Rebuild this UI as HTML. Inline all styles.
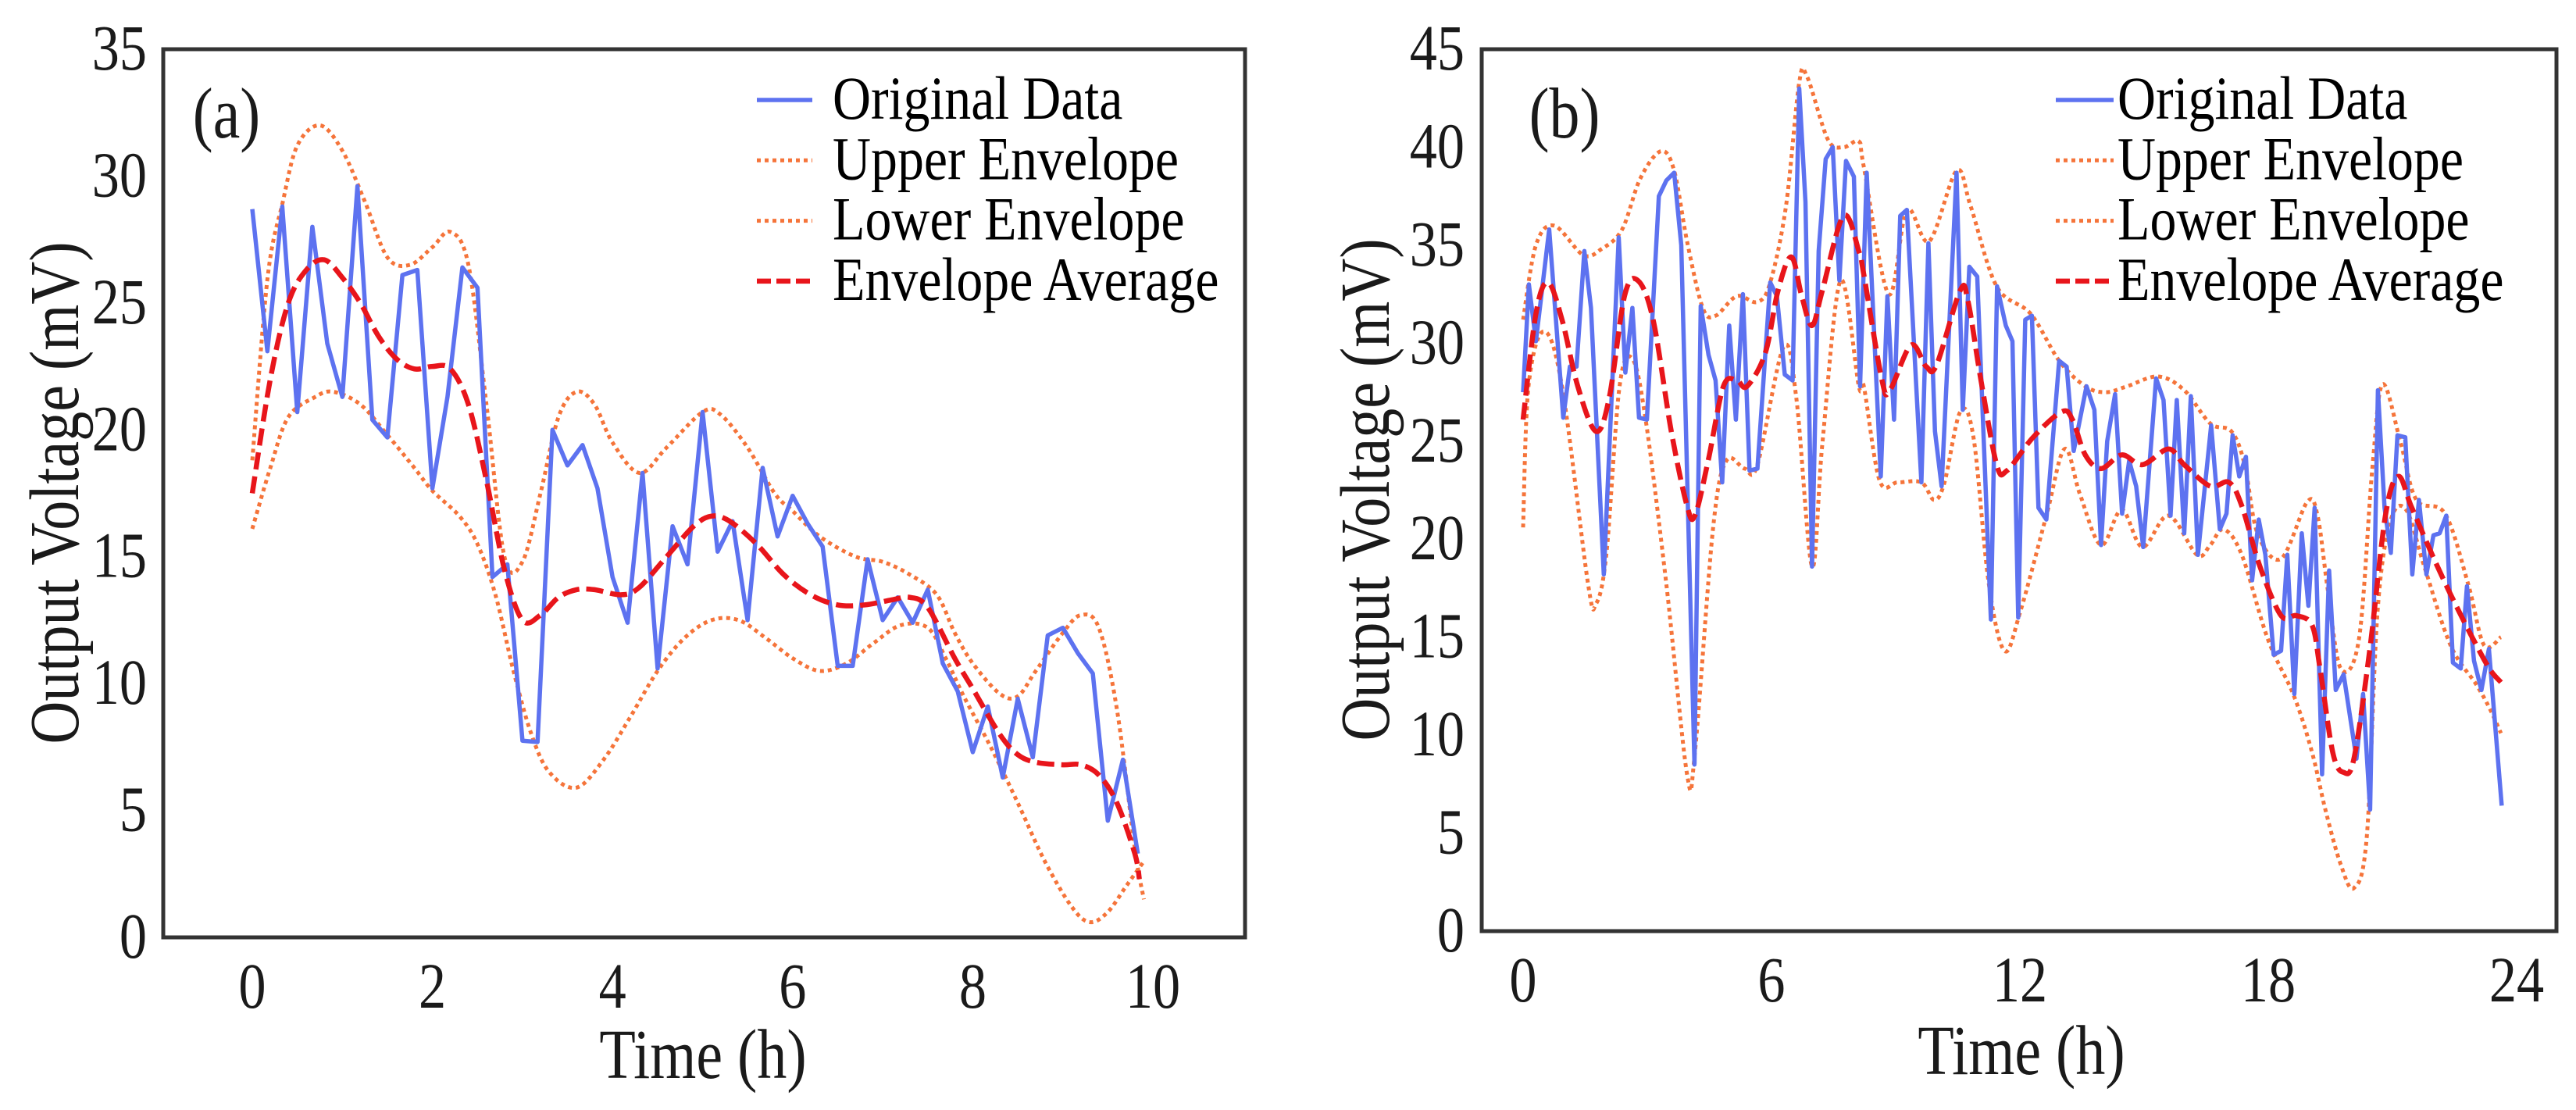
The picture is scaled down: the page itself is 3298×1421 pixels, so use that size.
<!DOCTYPE html>
<html><head><meta charset="utf-8"><style>
html,body{margin:0;padding:0;background:#fff;}
svg{display:block;font-family:"Liberation Serif","Times New Roman",serif;}
</style></head><body>
<svg id="chart" xmlns="http://www.w3.org/2000/svg" width="3298" height="1421" viewBox="0 0 3298 1421">
<rect x="0" y="0" width="3298" height="1421" fill="#fff"/>
</svg>
<script>
// ---- Panel (a) data ----
const aOrigT = [0,0.167,0.333,0.5,0.667,0.833,1,1.167,1.333,1.5,1.667,1.833,2,2.167,2.333,2.5,2.667,2.833,3,3.167,3.333,3.5,3.667,3.833,4,4.167,4.333,4.5,4.667,4.833,5,5.167,5.333,5.5,5.667,5.833,6,6.167,6.333,6.5,6.667,6.833,7,7.167,7.333,7.5,7.667,7.833,8,8.167,8.333,8.5,8.667,8.833,9,9.167,9.333,9.5,9.667,9.833];
const aOrigV = [28.7,23.1,28.8,20.7,28.0,23.4,21.3,29.6,20.4,19.7,26.1,26.3,17.7,21.3,26.4,25.6,14.2,14.7,7.75,7.7,20.0,18.6,19.4,17.7,14.2,12.4,18.3,10.6,16.2,14.7,20.7,15.2,16.4,12.5,18.5,15.8,17.4,16.3,15.4,10.7,10.7,14.9,12.5,13.4,12.4,13.7,10.8,9.7,7.3,9.1,6.3,9.4,7.1,11.9,12.2,11.2,10.4,4.6,7.0,3.3];
const aUpT = [0,0.17,0.34,0.5,0.75,1.0,1.25,1.5,1.75,2.0,2.2,2.4,2.6,2.8,3.0,3.2,3.4,3.6,3.8,4.0,4.3,4.6,5.0,5.2,5.5,5.8,6.0,6.3,6.7,7.0,7.3,7.6,7.8,8.0,8.3,8.5,8.7,9.0,9.2,9.4,9.6,9.8,9.9];
const aUpV = [18.8,26,29,31.2,32,31,29,26.8,26.5,27.2,27.8,26.5,21,15,14.8,17.5,20.5,21.5,21,19.5,18.3,19.3,20.7,20.6,19.3,17.5,16.8,15.8,15,14.8,14.3,13.5,12,10.8,9.6,9.5,10.5,12,12.7,12.2,9,3.5,1.5];
const aLoT = [0,0.2,0.4,0.7,0.9,1.2,1.5,1.8,2.0,2.3,2.5,2.7,2.9,3.1,3.3,3.6,3.9,4.2,4.5,4.8,5.1,5.4,5.7,6.0,6.3,6.6,6.9,7.2,7.5,7.7,7.9,8.2,8.5,8.8,9.1,9.3,9.5,9.7,9.9];
const aLoV = [16.1,18.5,20.5,21.3,21.5,21,19.8,18.5,17.6,16.6,15.5,13.5,10.5,8,6.5,5.9,7,8.7,10.5,11.8,12.5,12.5,11.8,11,10.5,10.8,11.6,12.3,12.2,11,9.5,7.5,5.3,3,1.2,0.6,1.0,2.0,3.0];
const aAvgT = [0,0.2,0.4,0.6,0.8,1.0,1.2,1.4,1.6,1.8,2.0,2.2,2.4,2.6,2.8,3.0,3.2,3.4,3.6,3.8,4.1,4.3,4.6,4.9,5.1,5.3,5.6,5.9,6.2,6.5,6.8,7.1,7.3,7.5,7.8,8.0,8.3,8.5,8.7,9.0,9.2,9.4,9.6,9.8,9.85];
const aAvgV = [17.5,22,25,26.3,26.7,26,25,23.7,22.8,22.4,22.5,22.4,21,18,14.5,12.5,12.7,13.4,13.7,13.7,13.5,13.8,15,16.2,16.6,16.4,15.5,14.3,13.5,13.1,13.1,13.3,13.4,13.0,11.0,9.8,8.0,7.2,6.9,6.8,6.8,6.4,5.3,3.3,2.3];
const aXTicks = [0,2,4,6,8,10];
const aYTicks = [0,5,10,15,20,25,30,35];

// ---- Panel (b) data ----
const bOrigT = [0,0.14,0.31,0.63,0.97,1.13,1.29,1.48,1.64,1.95,2.31,2.47,2.64,2.80,2.99,3.28,3.46,3.65,3.82,4.14,4.29,4.48,4.65,4.81,4.98,5.14,5.31,5.47,5.66,5.97,6.13,6.32,6.51,6.67,6.82,6.98,7.14,7.31,7.48,7.64,7.80,7.99,8.14,8.30,8.64,8.80,8.96,9.11,9.27,9.62,9.79,9.95,10.11,10.47,10.62,10.78,10.97,11.30,11.45,11.66,11.82,11.96,12.13,12.29,12.45,12.64,12.95,13.13,13.30,13.61,13.80,13.96,14.11,14.30,14.47,14.64,14.81,14.98,15.29,15.47,15.64,15.79,15.97,16.13,16.30,16.62,16.83,16.99,17.14,17.30,17.46,17.61,17.77,17.93,18.13,18.31,18.46,18.63,18.81,18.97,19.12,19.30,19.47,19.63,19.82,20.13,20.29,20.46,20.65,20.81,20.96,21.12,21.31,21.48,21.64,21.82,21.99,22.14,22.30,22.46,22.65,22.80,22.97,23.15,23.33,23.64];
const bOrigV = [27.5,33.0,30.1,35.8,26.2,28.8,28.8,34.7,31.8,18.2,35.4,28.5,31.8,26.2,26.1,37.5,38.3,38.7,35.0,8.5,31.9,29.4,28.1,22.9,30.9,26.1,32.5,23.5,23.6,33.1,32.4,28.4,28.1,43.0,37.2,18.6,34.7,39.4,40.0,33.2,39.3,38.5,27.8,38.7,23.2,32.4,26.1,36.5,36.8,22.9,35.1,25.5,22.7,38.7,26.6,33.9,33.4,15.9,32.9,30.9,30.1,16.0,31.2,31.4,21.6,21.0,29.1,28.8,24.5,27.8,26.6,19.7,25.0,27.4,21.3,24.0,22.7,19.6,28.2,27.1,21.2,27.1,20.3,27.3,19.2,25.8,20.5,21.3,25.3,23.2,24.2,17.9,21.0,19.2,14.1,14.3,19.2,12.1,20.3,16.6,21.6,8.0,18.4,12.3,13.1,8.8,12.1,6.2,27.6,21.6,19.3,25.3,25.2,18.2,22.0,18.2,20.2,20.3,21.2,13.7,13.4,17.6,13.8,12.3,14.4,6.4];
const bUpT = [0,0.31,0.75,1.45,1.89,2.39,2.83,3.33,3.65,3.96,4.34,4.65,5.16,5.66,5.97,6.35,6.67,6.86,7.36,7.74,8.11,8.23,8.83,9.27,9.81,10.47,10.81,11.44,12.26,12.95,13.58,14.08,14.59,15.34,15.97,16.6,17.11,17.43,17.74,18.31,18.94,19.19,19.44,19.75,20.19,20.51,20.76,21.2,21.58,22.27,22.83,23.21,23.62];
const bUpV = [31.2,35,36,34.5,34.8,35.8,38.4,39.8,38.8,35.2,31.8,31.4,32.4,32.1,33.1,37,43.3,43.6,40.4,40,40.3,39,32.5,36.8,35.2,38.8,37,32.9,31.5,29.1,27.8,27.5,27.8,28.3,27.6,25.9,25.5,23.8,20.3,19.0,21.9,21.2,17.4,13.4,14.9,23.5,27.9,24.9,22.0,21.3,17.7,14.6,15.0];
const bLoT = [0,0.13,0.5,0.94,1.57,1.76,2.01,2.33,2.64,2.96,3.46,3.96,4.15,4.59,4.91,5.35,5.66,6.29,6.6,6.98,7.23,7.67,8.11,8.23,8.61,9.05,9.62,9.93,10.18,10.56,10.88,11.25,11.63,12.01,12.64,13.08,13.45,13.96,14.46,14.96,15.59,16.28,16.6,16.92,17.36,17.99,18.62,19.06,19.38,19.75,20.07,20.38,20.64,20.95,21.33,21.77,22.4,23.02,23.34,23.62];
const bLoV = [20.6,27.8,30.6,27.8,17.7,16.7,19.2,27.8,29.2,26.1,17.7,8.0,9.1,20.6,24.0,23.6,23.8,29.8,27.2,18.6,24.9,33.2,27.8,27.8,23.0,22.9,22.9,22.0,22.9,26.5,25.2,17.7,14.3,16.3,21.2,24.6,22.3,19.7,21.5,19.6,21.2,19.2,19.7,20.5,19.2,14.9,12.0,9.1,6.2,3.4,2.2,4.8,16.3,20.9,21.5,18.6,14.6,12.6,11.4,10.1];
const bAvgT = [0,0.31,0.6,0.94,1.32,1.76,2.08,2.45,2.77,3.14,3.58,3.96,4.15,4.47,4.84,5.16,5.41,5.85,6.16,6.48,6.73,6.98,7.23,7.74,8.11,8.23,8.67,8.86,9.37,9.74,9.99,10.56,10.75,11.06,11.44,11.69,12.32,13.01,13.27,13.58,13.96,14.46,14.96,15.59,15.97,16.6,17.05,17.36,17.8,18.31,18.68,19.06,19.25,19.56,19.82,20.07,20.45,20.83,21.14,21.45,21.96,22.4,22.9,23.34,23.62];
const bAvgV = [26.1,31.5,33.1,31.2,27.8,25.5,27.2,32.4,33.2,31.2,25.5,21.7,21.2,24.0,27.8,28.1,27.8,29.5,32.7,34.4,32.4,30.9,32.7,36.5,34.7,33.5,28.1,27.6,29.9,28.8,28.9,32.7,32.1,28.1,23.8,23.5,25.2,26.5,26.1,24.3,23.6,24.3,23.8,24.6,23.8,22.7,22.9,21.7,18.6,16.1,16.1,15.6,13.4,9.1,8.1,8.8,14.3,21.2,23.2,21.7,19.2,17.2,15.1,13.4,12.7];
const bXTicks = [0,6,12,18,24];
const bYTicks = [0,5,10,15,20,25,30,35,40,45];

const NS = 'http://www.w3.org/2000/svg';
const svg = document.getElementById('chart');
function mk(tag, attrs, parent) {
  const e = document.createElementNS(NS, tag);
  for (const k in attrs) e.setAttribute(k, attrs[k]);
  (parent || svg).appendChild(e);
  return e;
}
function linePath(ts, vs, sx, sy) {
  return ts.map((t, i) => (i ? 'L' : 'M') + sx(t).toFixed(1) + ',' + sy(vs[i]).toFixed(1)).join(' ');
}
function smoothPath(ts, vs, sx, sy) {
  const p = ts.map((t, i) => [sx(t), sy(vs[i])]);
  let d = 'M' + p[0][0].toFixed(1) + ',' + p[0][1].toFixed(1);
  for (let i = 0; i < p.length - 1; i++) {
    const p0 = p[Math.max(i - 1, 0)], p1 = p[i], p2 = p[i + 1], p3 = p[Math.min(i + 2, p.length - 1)];
    const c1x = p1[0] + (p2[0] - p0[0]) / 6, c1y = p1[1] + (p2[1] - p0[1]) / 6;
    const c2x = p2[0] - (p3[0] - p1[0]) / 6, c2y = p2[1] - (p3[1] - p1[1]) / 6;
    d += ' C' + c1x.toFixed(1) + ',' + c1y.toFixed(1) + ' ' + c2x.toFixed(1) + ',' + c2y.toFixed(1) + ' ' + p2[0].toFixed(1) + ',' + p2[1].toFixed(1);
  }
  return d;
}

const BLUE = '#5d72f0', ORANGE = '#f5743a', RED = '#e8151b';
const DOT = '5 5', DASH = '22 9';

function txt(parent, x, y, size, anchor, content, name, rot) {
  const tr = 'translate(' + x + ',' + y + ')' + (rot ? ' rotate(-90)' : '') + ' scale(0.95,1.12)';
  const t = mk('text', {transform: tr, x: 0, y: 0, 'font-size': size, 'text-anchor': anchor, fill: '#1a1a1a'}, parent);
  t.textContent = content;
  
  
  return t;
}

function panel(cfg) {
  const g = mk('g', {});
  
  
  const sx = t => cfg.x0 + (t - cfg.t0) * (cfg.x1 - cfg.x0) / (cfg.t1 - cfg.t0);
  const sy = v => cfg.fb + (v - cfg.v0) * (cfg.ft - cfg.fb) / (cfg.v1 - cfg.v0);

  const up = mk('path', {d: smoothPath(cfg.upT, cfg.upV, sx, sy), fill: 'none', stroke: ORANGE, 'stroke-width': 5, 'stroke-dasharray': DOT}, g);
  
  
  const lo = mk('path', {d: smoothPath(cfg.loT, cfg.loV, sx, sy), fill: 'none', stroke: ORANGE, 'stroke-width': 5, 'stroke-dasharray': DOT}, g);
  
  
  const orig = mk('path', {d: linePath(cfg.oT, cfg.oV, sx, sy), fill: 'none', stroke: BLUE, 'stroke-width': 5.5, 'stroke-linejoin': 'round'}, g);
  
  
  const avg = mk('path', {d: smoothPath(cfg.avT, cfg.avV, sx, sy), fill: 'none', stroke: RED, 'stroke-width': 6.5, 'stroke-dasharray': DASH}, g);
  
  

  const frame = mk('rect', {x: cfg.fl, y: cfg.ft, width: cfg.fr - cfg.fl, height: cfg.fb - cfg.ft, fill: 'none', stroke: '#333', 'stroke-width': 5}, g);
  
  

  cfg.xTicks.forEach(t => txt(g, sx(t), cfg.xTickY, 74, 'middle', String(t), 'x-tick-label'));
  cfg.yTicks.forEach(v => txt(g, cfg.yTickX, sy(v) + 26, 74, 'end', String(v), 'y-tick-label'));
  txt(g, cfg.xTitleX, cfg.xTitleY, 80, 'middle', 'Time (h)', 'x-axis-title');
  txt(g, cfg.yTitleX, cfg.yTitleY, 80, 'middle', 'Output Voltage (mV)', 'y-axis-title', true);
  txt(g, cfg.labX, 176, 82, 'middle', cfg.label, 'panel-label');

  const legend = mk('g', {}, g);
  
  
  const entries = [
    ['Original Data', BLUE, 5.5, 'none'],
    ['Upper Envelope', ORANGE, 5, DOT],
    ['Lower Envelope', ORANGE, 5, DOT],
    ['Envelope Average', RED, 6.5, '18 7']
  ];
  entries.forEach((e, i) => {
    const cy = 128 + i * 77.3;
    const eg = mk('g', {}, legend);
    
    
    const ln = mk('line', {x1: cfg.legH0, x2: cfg.legH1, y1: cy, y2: cy, stroke: e[1], 'stroke-width': e[2], 'stroke-dasharray': e[3]}, eg);
    
    
    const t = mk('text', {transform: 'translate(' + cfg.legT + ',' + (cy + 24) + ') scale(0.97,1.12)', x: 0, y: 0, 'font-size': 70, fill: '#000'}, eg);
    t.textContent = e[0];
    
    
  });
}

panel({name: 'panel-a', label: '(a)', labX: 290,
  fl: 209, fr: 1594, ft: 63, fb: 1200,
  x0: 323, x1: 1476, t0: 0, t1: 10, v0: 0, v1: 35,
  oT: aOrigT, oV: aOrigV, upT: aUpT, upV: aUpV, loT: aLoT, loV: aLoV, avT: aAvgT, avV: aAvgV,
  xTicks: aXTicks, yTicks: aYTicks, xTickY: 1290, yTickX: 188,
  xTitleX: 900, xTitleY: 1380, yTitleX: 100, yTitleY: 631,
  legH0: 969, legH1: 1040, legT: 1066});

panel({name: 'panel-b', label: '(b)', labX: 2003,
  fl: 1897, fr: 3273, ft: 63, fb: 1192,
  x0: 1950, x1: 3222, t0: 0, t1: 24, v0: 0, v1: 45,
  oT: bOrigT, oV: bOrigV, upT: bUpT, upV: bUpV, loT: bLoT, loV: bLoV, avT: bAvgT, avV: bAvgV,
  xTicks: bXTicks, yTicks: bYTicks, xTickY: 1282, yTickX: 1875,
  xTitleX: 2588, xTitleY: 1375, yTitleX: 1778, yTitleY: 627,
  legH0: 2632, legH1: 2706, legT: 2711});
</script>
</body></html>
